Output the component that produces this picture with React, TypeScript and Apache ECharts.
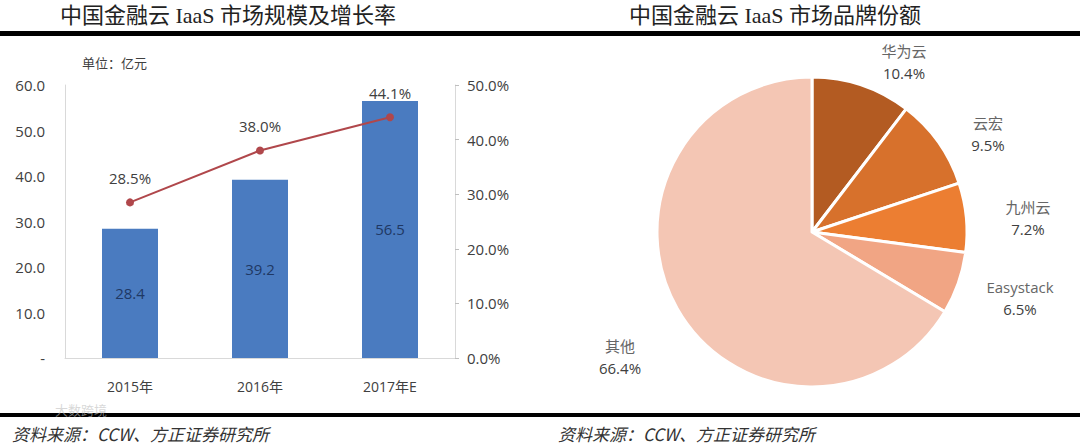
import React, { useEffect, useRef } from "react";
import * as echarts from "echarts";

const years = ["2015年", "2016年", "2017年E"];
const marketSize = [28.4, 39.2, 56.5];
const growthRate = [28.5, 38.0, 44.1];
const leftTicks = [0, 10, 20, 30, 40, 50, 60];

const brands = ["华为云", "云宏", "九州云", "Easystack", "其他"];
const brandShares = [10.4, 9.5, 7.2, 6.5, 66.4];
const brandColors = ["#b35b22", "#d7712c", "#ec7e32", "#f1a584", "#f4c6b4"];

const titleLeft = "中国金融云 IaaS 市场规模及增长率";
const titleRight = "中国金融云 IaaS 市场品牌份额";
const sourceText = "资料来源：CCW、方正证券研究所";
const unitText = "单位：亿元";

// label block centres for the pie (layout only)
const pieLabelPos: [number, number][] = [
  [904, 62],
  [988, 134],
  [1028, 218],
  [1020, 298],
  [620, 357],
];

const SANS = '"Open Sans", "Noto Sans", "Noto Sans CJK SC", sans-serif';
const TITLE_FONT = '"Liberation Serif", "Noto Sans CJK SC", serif';

export default function App() {
  const ref = useRef<HTMLDivElement>(null);
  useEffect(() => {
    if (!ref.current) return;
    const chart = echarts.init(ref.current, undefined, { renderer: "svg" });
    const option: any = {
      animation: false,
      backgroundColor: "#ffffff",
      graphic: [
        {
          type: "text",
          x: 228,
          y: 15,
          style: {
            text: titleLeft,
            font: `22px ${TITLE_FONT}`,
            fill: "#222",
            textAlign: "center",
            textVerticalAlign: "middle",
          },
        },
        {
          type: "text",
          x: 775,
          y: 15,
          style: {
            text: titleRight,
            font: `22px ${TITLE_FONT}`,
            fill: "#222",
            textAlign: "center",
            textVerticalAlign: "middle",
          },
        },
        { type: "rect", shape: { x: 0, y: 31, width: 1080, height: 5 }, style: { fill: "#000" } },
        { type: "rect", shape: { x: 0, y: 413, width: 1080, height: 4 }, style: { fill: "#000" } },
        {
          type: "text",
          x: 82,
          y: 63,
          style: {
            text: unitText,
            font: `13px ${SANS}`,
            fill: "#404040",
            textVerticalAlign: "middle",
          },
        },
        {
          type: "text",
          x: 55,
          y: 409,
          z: 10,
          style: {
            text: "大数跨境",
            font: `13px "Noto Sans CJK SC", sans-serif`,
            fill: "rgba(190,190,190,0.6)",
            textVerticalAlign: "middle",
          },
        },
        {
          type: "text",
          x: 12,
          y: 433,
          style: {
            text: sourceText,
            font: `italic 17px "Noto Sans CJK SC", serif`,
            fill: "#333",
            textVerticalAlign: "middle",
          },
        },
        {
          type: "text",
          x: 558,
          y: 433,
          style: {
            text: sourceText,
            font: `italic 17px "Noto Sans CJK SC", serif`,
            fill: "#333",
            textVerticalAlign: "middle",
          },
        },
      ],
      grid: { left: 65, right: 625, top: 85, bottom: 86 },
      xAxis: {
        type: "category",
        data: years,
        axisLine: { show: true, lineStyle: { color: "#d9d9d9", width: 1 } },
        axisTick: { show: false },
        axisLabel: { color: "#404040", fontSize: 14, fontFamily: SANS, margin: 21 },
      },
      yAxis: [
        {
          type: "value",
          min: leftTicks[0],
          max: leftTicks[leftTicks.length - 1],
          interval: 10,
          axisLine: { show: true, lineStyle: { color: "#d9d9d9" } },
          axisTick: { show: false },
          splitLine: { show: false },
          axisLabel: {
            color: "#404040",
            fontSize: 15,
            fontFamily: SANS,
            margin: 20,
            formatter: (v: number) => (v === 0 ? "-" : v.toFixed(1)),
          },
        },
        {
          type: "value",
          min: 0,
          max: 50,
          interval: 10,
          position: "right",
          axisLine: { show: true, lineStyle: { color: "#d9d9d9" } },
          axisTick: { show: true, length: 4, lineStyle: { color: "#bfbfbf" } },
          splitLine: { show: false },
          axisLabel: {
            color: "#404040",
            fontSize: 15,
            fontFamily: SANS,
            margin: 12,
            formatter: (v: number) => v.toFixed(1) + "%",
          },
        },
      ],
      series: [
        {
          type: "bar",
          data: marketSize,
          yAxisIndex: 0,
          barWidth: 56,
          itemStyle: { color: "#4a7bc0" },
          label: {
            show: true,
            position: "inside",
            color: "#1f3864",
            fontSize: 15,
            fontFamily: SANS,
            formatter: (p: any) => Number(p.value).toFixed(1),
          },
        },
        {
          type: "line",
          data: growthRate,
          yAxisIndex: 1,
          symbol: "circle",
          symbolSize: 8,
          lineStyle: { color: "#b0474b", width: 2 },
          itemStyle: { color: "#b0474b" },
          label: {
            show: true,
            position: "top",
            distance: 13,
            color: "#404040",
            fontSize: 15,
            fontFamily: SANS,
            formatter: (p: any) => Number(p.value).toFixed(1) + "%",
          },
        },
        {
          type: "pie",
          center: [812, 232],
          radius: 155,
          startAngle: 90,
          clockwise: true,
          data: brands.map((n, i) => ({
            name: n,
            value: brandShares[i],
            itemStyle: { color: brandColors[i] },
          })),
          itemStyle: { borderColor: "#ffffff", borderWidth: 3 },
          label: {
            show: true,
            position: "outside",
            overflow: "none",
            formatter: (p: any) => `{n|${p.name}}\n{p|${Number(p.value).toFixed(1)}%}`,
            rich: {
              n: { fontSize: 15, color: "#666", fontFamily: SANS, lineHeight: 22, align: "center" },
              p: { fontSize: 15, color: "#404040", fontFamily: SANS, lineHeight: 22, align: "center" },
            },
          },
          labelLine: { show: false },
          labelLayout: (params: any) => {
            const pos = pieLabelPos[params.dataIndex];
            return { x: pos[0], y: pos[1], align: "center", verticalAlign: "middle", width: 120 };
          },
        },
      ],
    };
    chart.setOption(option);
    return () => chart.dispose();
  }, []);
  return (
    <div
      ref={ref}
      style={{ position: "absolute", left: 0, top: 0, width: 1080, height: 444 }}
    />
  );
}
